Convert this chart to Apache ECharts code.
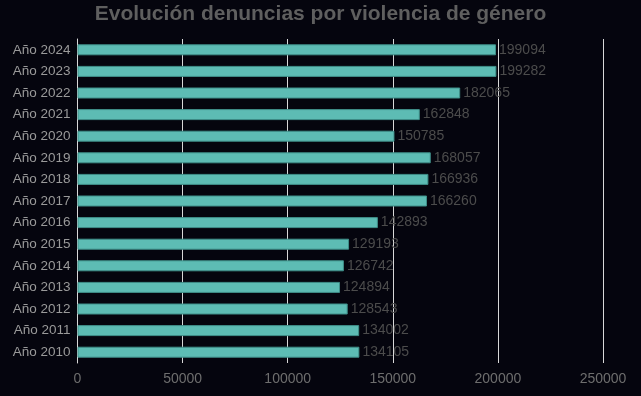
<!DOCTYPE html>
<html><head><meta charset="utf-8">
<script src="https://cdn.jsdelivr.net/npm/echarts@6/dist/echarts.min.js"></script>
<style>html,body{margin:0;padding:0;background:#05050e;}#c{width:641px;height:396px;}</style>
</head><body><div id="c"></div>
<script>
const categories = ["Año 2010","Año 2011","Año 2012","Año 2013","Año 2014","Año 2015","Año 2016","Año 2017","Año 2018","Año 2019","Año 2020","Año 2021","Año 2022","Año 2023","Año 2024"];
const denuncias = [134105,134002,128543,124894,126742,129193,142893,166260,166936,168057,150785,162848,182065,199282,199094];
const xTicks = [0,50000,100000,150000,200000,250000];

const chart = echarts.init(document.getElementById('c'), null, {renderer:'canvas'});
chart.setOption({
  backgroundColor:'#05050e',
  animation:false,
  textStyle:{fontFamily:'Liberation Sans, Arial, sans-serif'},
  title:{text:'Evolución denuncias por violencia de género',left:'center',top:-1,
    textStyle:{color:'#5f5f5f',fontSize:21,fontWeight:'bold',fontFamily:'Liberation Sans, Arial, sans-serif'}},
  grid:{left:77.5,right:38,top:39,bottom:33,containLabel:false},
  xAxis:{type:'value',min:xTicks[0],max:xTicks[xTicks.length-1],interval:50000,
    axisLine:{show:false},axisTick:{show:false},
    axisLabel:{color:'#6e6e6e',fontSize:14,margin:9,formatter:v=>String(v)},
    splitLine:{show:true,lineStyle:{color:'#d8d8d8',width:1}}},
  yAxis:{type:'category',data:categories,
    axisLine:{show:true,lineStyle:{color:'#d8d8d8'}},axisTick:{show:false},
    axisLabel:{color:'#9a9a9a',fontSize:13.5,margin:7}},
  series:[{type:'bar',data:denuncias,barWidth:11,
    itemStyle:{color:'#5dbcb4',borderColor:'#3f8f89',borderWidth:1},
    label:{show:true,position:'right',distance:3,color:'#4c4c4c',fontSize:14}}]
});
</script></body></html>
